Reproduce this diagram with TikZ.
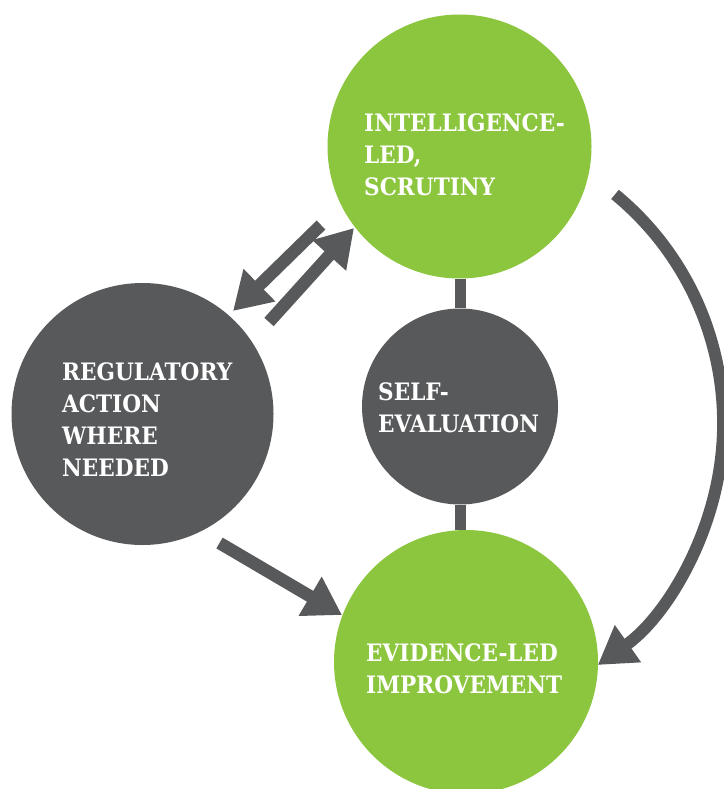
\documentclass[tikz,border=0pt]{standalone}
\usepackage{fontspec}
\setmainfont{DejaVu Serif}[FakeStretch=0.9]
\usetikzlibrary{arrows.meta}
\definecolor{cgreen}{HTML}{8CC63F}
\definecolor{cgray}{HTML}{58595B}
\begin{document}
\begin{tikzpicture}[x=1pt,y=-1pt,
  disc/.style={circle,inner sep=0pt,minimum size=#1,draw=none},
  lbl/.style={anchor=north west,inner sep=0pt,align=left,text=white,font=\fontsize{24}{32.3}\selectfont\bfseries},
  bar/.style={draw=cgray,line width=11pt},
  arr/.style={draw=cgray,line width=12.5pt,-{Triangle[length=37pt,width=43pt]}}]
\useasboundingbox (0,0) rectangle (723,789);
% circles
\node[disc=264pt,fill=cgreen] (top) at (459.5,146.5) {};
\node[disc=262pt,fill=cgray] (left) at (142.5,414) {};
\node[disc=196pt,fill=cgray] (mid) at (460,406.5) {};
\node[disc=264pt,fill=cgreen] (bot) at (466,662) {};
% bars
\draw[bar] (mid.north) -- (mid.north |- top.south);
\draw[bar] (mid.south) -- (mid.south |- bot.north);
% labels
\node[lbl] (ttop) at (364,113) {INTELLIGENCE-\\LED,\\SCRUTINY};
\node[lbl] (tleft) at (62,362) {REGULATORY\\ACTION\\WHERE\\NEEDED};
\node[lbl] (tmid) at (378,382) {SELF-\\EVALUATION};
\node[lbl] (tbot) at (366,643) {EVIDENCE-LED\\IMPROVEMENT};
% arrow endpoints
\coordinate (a1s) at (321,225);
\coordinate (a1e) at (233,311);
\coordinate (a2s) at (269,322);
\coordinate (a2e) at (354,228);
\coordinate (a3s) at (219.5,543);
\coordinate (a3e) at (342,615);
\coordinate (a4s) at (615,194.4);
\draw[arr] (a1s) -- (a1e);
\draw[arr] (a2s) -- (a2e);
\draw[arr] (a3s) -- (a3e);
\draw[arr,line width=12pt] (a4s) arc[start angle=-50.6,end angle=54.8,radius=296];
\end{tikzpicture}
\end{document}
